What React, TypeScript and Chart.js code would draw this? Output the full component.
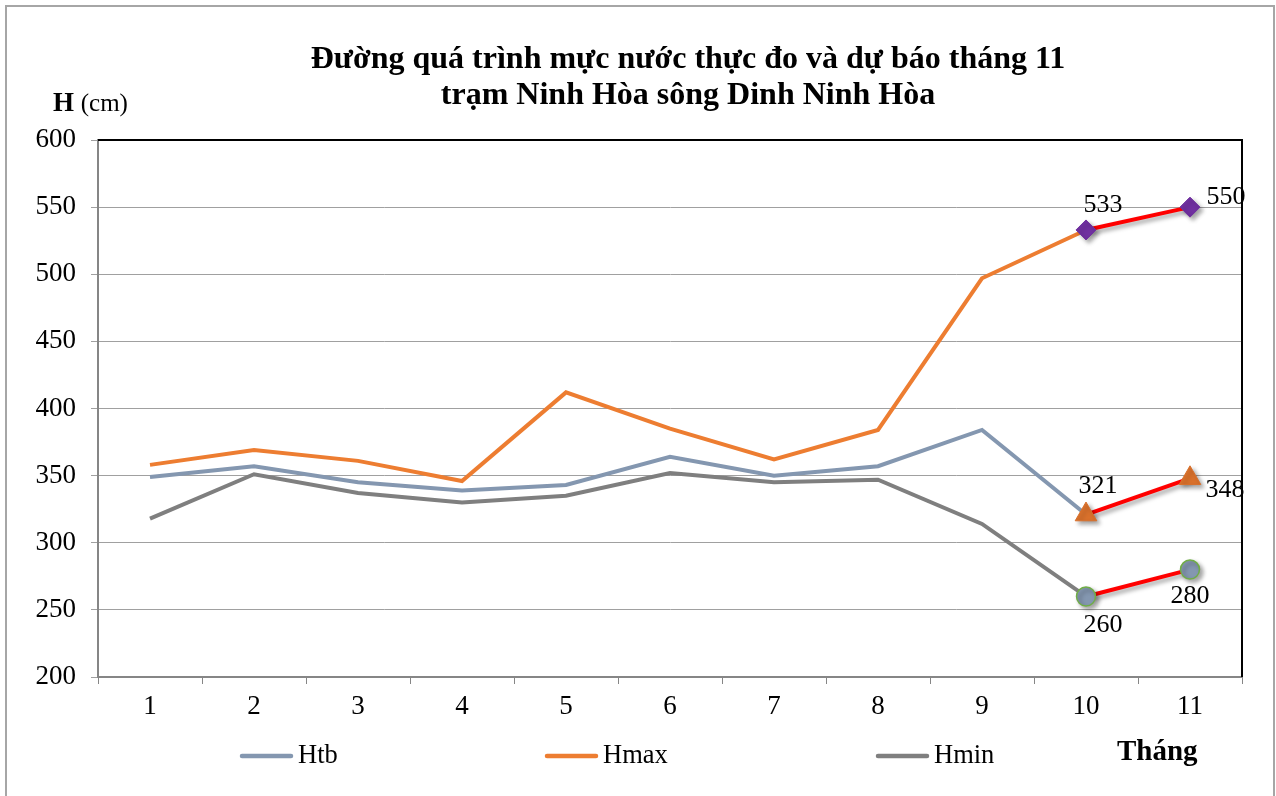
import React, { useEffect, useRef } from "react";
import { Chart, registerables } from "chart.js";

Chart.register(...registerables);

const months = ["1", "2", "3", "4", "5", "6", "7", "8", "9", "10", "11"];
const htb = [349, 357, 345, 339, 343, 364, 350, 357, 384, 321, null];
const hmax = [358, 369, 361, 346, 412, 385, 362, 384, 497, 533, null];
const hmin = [318, 351, 337, 330, 335, 352, 345, 347, 314, 260, null];
const fcMax = [null, null, null, null, null, null, null, null, null, 533, 550];
const fcTb = [null, null, null, null, null, null, null, null, null, 321, 348];
const fcMin = [null, null, null, null, null, null, null, null, null, 260, 280];
const yTicks = [200, 250, 300, 350, 400, 450, 500, 550, 600];
const titleLines = ["Đường quá trình mực nước thực đo và dự báo tháng 11", "trạm Ninh Hòa sông Dinh Ninh Hòa"];
const legendNames = ["Htb", "Hmax", "Hmin"];

const C_TB = "#8497B0";
const C_MAX = "#ED7D31";
const C_MIN = "#7F7F7F";
const SERIF = "'Liberation Serif', 'Times New Roman', serif";

// label offsets for forecast values [datasetIndex][pointIndex] => [dx, dy]
const labelOffsets: Record<number, Record<number, [number, number]>> = {
  3: { 9: [17, -25], 10: [36, -10] },
  4: { 9: [12, -28], 10: [35, 12] },
  5: { 9: [17, 29], 10: [0, 27] },
};

const decor = {
  id: "decor",
  beforeDraw(chart: any) {
    const ctx = chart.ctx;
    ctx.save();
    ctx.fillStyle = "#fff";
    ctx.fillRect(0, 0, chart.width, chart.height);
    ctx.strokeStyle = "#A6A6A6";
    ctx.lineWidth = 2;
    ctx.beginPath();
    ctx.moveTo(6, chart.height + 5);
    ctx.lineTo(6, 6);
    ctx.lineTo(1274, 6);
    ctx.lineTo(1274, chart.height + 5);
    ctx.stroke();
    ctx.restore();
  },
  beforeDatasetDraw(chart: any, args: any) {
    const ctx = chart.ctx;
    ctx.save();
    if (args.index >= 3) {
      ctx.shadowColor = "rgba(0,0,0,0.35)";
      ctx.shadowBlur = 4;
      ctx.shadowOffsetX = 3;
      ctx.shadowOffsetY = 3;
    }
  },
  afterDatasetDraw(chart: any) {
    chart.ctx.restore();
  },
  afterDraw(chart: any) {
    const ctx = chart.ctx;
    const a = chart.chartArea;
    ctx.save();
    // plot border top/right
    ctx.strokeStyle = "#000";
    ctx.lineWidth = 2;
    ctx.beginPath();
    ctx.moveTo(a.left, a.top);
    ctx.lineTo(a.right, a.top);
    ctx.lineTo(a.right, a.bottom);
    ctx.stroke();

    // title
    ctx.fillStyle = "#000";
    ctx.textAlign = "center";
    ctx.textBaseline = "middle";
    ctx.font = `bold 32px ${SERIF}`;
    ctx.fillText(titleLines[0], 688, 60);
    ctx.fillText(titleLines[1], 688, 96);

    // y axis title
    ctx.textAlign = "left";
    ctx.font = `bold 27px ${SERIF}`;
    ctx.fillText("H", 53, 104);
    const hw = ctx.measureText("H ").width;
    ctx.font = `25px ${SERIF}`;
    ctx.fillText("(cm)", 53 + hw, 104);

    // x axis title
    ctx.font = `bold 29px ${SERIF}`;
    ctx.fillText("Tháng", 1117, 753);

    // legend
    const legendX = [240, 545, 876];
    const colors = [C_TB, C_MAX, C_MIN];
    ctx.font = `26.5px ${SERIF}`;
    legendNames.forEach((n, i) => {
      ctx.strokeStyle = colors[i];
      ctx.lineWidth = 4.5;
      ctx.lineCap = "round";
      ctx.beginPath();
      ctx.moveTo(legendX[i] + 2, 756);
      ctx.lineTo(legendX[i] + 51, 756);
      ctx.stroke();
      ctx.fillText(n, legendX[i] + 58, 756);
    });

    // data labels
    ctx.font = `26px ${SERIF}`;
    ctx.textAlign = "center";
    Object.keys(labelOffsets).forEach((dsKey) => {
      const di = Number(dsKey);
      const meta = chart.getDatasetMeta(di);
      const ds = chart.data.datasets[di];
      Object.keys(labelOffsets[di]).forEach((pk) => {
        const pi = Number(pk);
        const el = meta.data[pi];
        const v = ds.data[pi];
        if (!el || v == null) return;
        const [dx, dy] = labelOffsets[di][pi];
        ctx.fillText(String(v), el.x + dx, el.y + dy);
      });
    });
    ctx.restore();
  },
};

export default function App() {
  const ref = useRef<HTMLCanvasElement | null>(null);
  useEffect(() => {
    if (!ref.current) return;
    const chart = new Chart(ref.current, {
      type: "line",
      data: {
        labels: months,
        datasets: [
          { label: "Htb", data: htb, borderColor: C_TB, borderWidth: 4, pointRadius: 0, tension: 0, order: 2 },
          { label: "Hmax", data: hmax, borderColor: C_MAX, borderWidth: 4, pointRadius: 0, tension: 0, order: 2 },
          { label: "Hmin", data: hmin, borderColor: C_MIN, borderWidth: 4, pointRadius: 0, tension: 0, order: 2 },
          {
            label: "fcMax", data: fcMax, borderColor: "#FF0000", borderWidth: 4, order: 1,
            pointStyle: "rectRot", pointRadius: 10, pointBackgroundColor: "#7030A0", pointBorderColor: "#7030A0", pointBorderWidth: 1,
          },
          {
            label: "fcTb", data: fcTb, borderColor: "#FF0000", borderWidth: 4, order: 1,
            pointStyle: "triangle", pointRadius: 12.5, pointBackgroundColor: "#D9712C", pointBorderColor: "#D9712C", pointBorderWidth: 1,
          },
          {
            label: "fcMin", data: fcMin, borderColor: "#FF0000", borderWidth: 4, order: 1,
            pointStyle: "circle", pointRadius: 9.5, pointBackgroundColor: "#8497B0", pointBorderColor: "#70AD47", pointBorderWidth: 1.5,
          },
        ],
      },
      options: {
        responsive: false,
        animation: false,
        devicePixelRatio: 1,
        spanGaps: false,
        layout: { padding: { left: 0, top: 140, right: 34, bottom: 0 } },
        plugins: {
          legend: { display: false },
          title: { display: false },
          tooltip: { enabled: false },
        },
        scales: {
          x: {
            type: "category",
            offset: true,
            grid: { display: true, drawOnChartArea: false, drawTicks: true, tickLength: 7, offset: true, color: "#868686", lineWidth: 1 },
            border: { display: true, color: "#868686", width: 2 },
            ticks: { color: "#000", font: { family: SERIF, size: 27 }, padding: 7, maxRotation: 0 },
            afterFit: (s: any) => { s.height = 119; },
          },
          y: {
            min: 200,
            max: 600,
            afterBuildTicks: (s: any) => { s.ticks = yTicks.map((v) => ({ value: v })); },
            grid: { color: "#A0A0A0", lineWidth: 1, drawTicks: true, tickLength: 7 },
            border: { display: true, color: "#868686", width: 2 },
            ticks: { color: "#000", font: { family: SERIF, size: 27 }, padding: 15 },
            afterFit: (s: any) => { s.width = 98; },
          },
        },
      },
      plugins: [decor],
    } as any);
    return () => chart.destroy();
  }, []);
  return (
    <div style={{ position: "absolute", left: 0, top: 0, width: 1276, height: 796 }}>
      <canvas ref={ref} width={1276} height={796} style={{ display: "block" }} />
    </div>
  );
}
